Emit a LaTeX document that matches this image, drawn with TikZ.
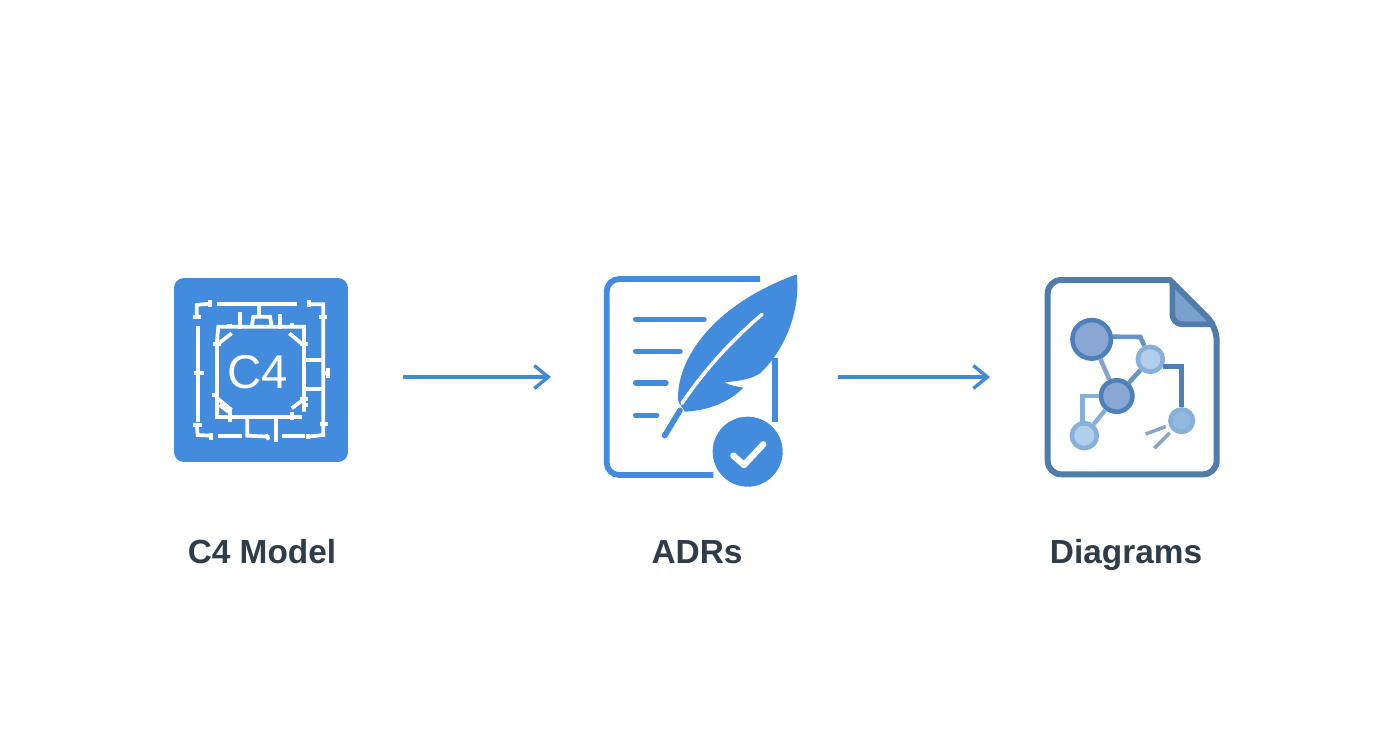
\documentclass[tikz,border=0pt]{standalone}
\usepackage{fontspec}
\setmainfont{Liberation Sans}
\usetikzlibrary{arrows.meta}
\definecolor{iconblue}{HTML}{428BDD}
\definecolor{arrowblue}{HTML}{3F8AD0}
\definecolor{docblue}{HTML}{4F7CA8}
\definecolor{foldblue}{HTML}{7C9FCB}
\definecolor{ringdark}{HTML}{4C80BA}
\definecolor{fillmid}{HTML}{8AA6D3}
\definecolor{ringlight}{HTML}{86B0DA}
\definecolor{filllight}{HTML}{B0CFEC}
\definecolor{labelgray}{HTML}{2F3D4B}
\begin{document}
\begin{tikzpicture}[x=0.02cm, y=-0.02cm]
\tikzset{IconLabel/.style ={font=\fontsize{19}{22}\bfseries\selectfont, text=labelgray, inner sep=0pt, anchor=base}}
\tikzset{FlowArrow/.style ={draw=arrowblue, line width=1.9pt, -{Straight Barb[length=8pt, width=13pt, line width=1.9pt]}}}
\tikzset{Plan/.style ={draw=white, line width=2.1pt}}
\tikzset{DocLine/.style ={draw=iconblue, line width=3.1pt, line cap=round}}
\tikzset{GraphVertex/.style ={circle, inner sep=0pt, line width=2.6pt}}
\useasboundingbox (0,0) rectangle (1392,752);
\fill[white] (0,0) rectangle (1392,752);
\node (c4box) [fill=iconblue, rounded corners=0.2cm, minimum width=3.48cm, minimum height=3.68cm] at (261,370) {};
\node (c4text) [text=white, inner sep=0pt, font=\fontsize{27}{27}\selectfont] at (258,372) {C4};
\begin{scope}[shift={(160,265)}, x=0.00667cm, y=-0.00667cm]
\draw[Plan] (110,155) -- (110,120) -- (155,115);
\draw[Plan] (100,155) -- (122,155);
\draw[Plan] (150,106) -- (150,125);
\draw[Plan] (172,118) -- (412,118);
\draw[Plan] (297,118) -- (297,155);
\draw[Plan] (275,185) -- (280,155) -- (330,155) -- (335,185);
\draw[Plan] (240,140) -- (240,192);
\draw[Plan] (360,148) -- (360,192);
\draw[Plan] (445,118) -- (490,118) -- (490,475) -- (490,510) -- (445,515);
\draw[Plan] (447,106) -- (447,125);
\draw[Plan] (478,155) -- (500,155);
\draw[Plan] (113,182) -- (113,470);
\draw[Plan] (103,323) -- (132,323);
\draw[Plan] (110,475) -- (113,510) -- (155,512);
\draw[Plan] (100,480) -- (125,480);
\draw[Plan] (152,505) -- (152,525);
\draw[Plan] (175,512) -- (245,512);
\draw[Plan] (262,462) -- (262,512) -- (328,515);
\draw[Plan] (318,508) -- (326,524);
\draw[Plan] (347,462) -- (347,530);
\draw[Plan] (365,512) -- (435,512);
\draw[Plan] (445,506) -- (445,522);
\draw[Plan] (480,478) -- (505,478);
\draw[Plan] (435,285) -- (490,285);
\draw[Plan] (435,372) -- (490,372);
\draw[Plan] (490,325) -- (505,325);
\draw[Plan] (505,310) -- (505,340);
\draw[Plan] (170,237) -- (170,455) -- (425,455);
\draw[Plan] (170,237) -- (175,185) -- (432,185) -- (432,440);
\draw[Plan] (180,232) -- (215,205);
\draw[Plan] (160,237) -- (182,237);
\draw[Plan] (200,183) -- (215,183);
\draw[Plan] (388,205) -- (430,240);
\draw[Plan] (395,175) -- (395,190);
\draw[Plan] (420,238) -- (445,238);
\draw[Plan] (155,390) -- (178,390);
\draw[Plan] (172,400) -- (215,435);
\draw[Plan] (178,420) -- (205,440);
\draw[Plan] (210,435) -- (210,470);
\draw[Plan] (395,430) -- (435,400);
\draw[Plan] (420,403) -- (445,403);
\draw[Plan] (395,440) -- (395,465);
\draw[Plan] (430,420) -- (445,420);
\end{scope}
\begin{scope}[shift={(590,265)}, x=0.00667cm, y=-0.00667cm]
\draw[draw=iconblue, line width=3.3pt, rounded corners=0.25cm] (510,42) -- (50,42) -- (50,630) -- (370,630);
\draw[draw=iconblue, line width=3.3pt] (555,280) -- (555,470);
\draw[DocLine] (137,163) -- (342,163);
\draw[DocLine] (137,259) -- (270,259);
\draw[DocLine] (137,354) -- (228,354);
\draw[DocLine] (137,451) -- (200,451);
\fill[iconblue] (620,28) .. controls (632,130) and (590,250) .. (510,325)
 .. controls (480,345) and (440,348) .. (403,352)
 .. controls (420,362) and (440,364) .. (460,368)
 .. controls (430,400) and (370,436) .. (285,440)
 -- (265,410)
 .. controls (255,310) and (340,130) .. (620,28) -- cycle;
\draw[white, line width=2pt, line cap=round] (516,148) .. controls (420,230) and (340,320) .. (276,415);
\draw[iconblue, line width=3.2pt, line cap=round] (270,436) -- (224,512);
\node (adrcheck) [circle, fill=iconblue, inner sep=0pt, minimum size=1.4cm] at (473,560) {};
\draw[white, line width=3.6pt, line cap=round, line join=round] (430,572) -- (462,600) -- (520,538);
\end{scope}
\begin{scope}[shift={(1035,265)}, x=0.00667cm, y=-0.00667cm]
\draw[fill=foldblue, draw=docblue, line width=3.2pt, rounded corners=0.2cm] (412,50) -- (412,178) -- (540,178);
\draw[draw=docblue, line width=3.4pt, line join=round] (405,45) [rounded corners=0.27cm] -- (38,45) -- (38,628) -- (545,628) -- (545,185) [sharp corners] -- cycle;
\node (gbig) [GraphVertex, minimum size=0.77cm, fill=fillmid, draw=ringdark] at (170,223) {};
\node (gtop) [GraphVertex, minimum size=0.5cm, fill=filllight, draw=ringlight] at (346,283) {};
\node (gmid) [GraphVertex, minimum size=0.63cm, fill=fillmid, draw=ringdark] at (245,393) {};
\node (gleft) [GraphVertex, minimum size=0.5cm, fill=filllight, draw=ringlight] at (148,512) {};
\node (gright) [GraphVertex, minimum size=0.45cm, fill=ringlight!70!filllight, draw=ringlight] at (440,467) {};
\draw[draw=ringdark!85!white, line width=2.6pt] (gbig.7) -- (316,216) -- (gtop);
\draw[draw=ringdark!70!white, line width=2.6pt] (gbig) -- (gmid);
\draw[draw=ringdark!85!white, line width=2.6pt] (gtop) -- (gmid);
\draw[draw=ringlight, line width=2.6pt] (gmid) -- (gleft);
\draw[draw=ringlight, line width=2.6pt] (gmid.180) -- (142,393) -- (142,482);
\draw[draw=ringdark, line width=2.6pt] (gtop.330) -- (gright.north |- gtop.330) -- (gright.north);
\coordinate (stubone) at (332,507);
\coordinate (stubtwo) at (358,550);
\draw[draw=ringlight!80!gray, line width=2pt, shorten <=2pt] (gright) -- (stubone);
\draw[draw=ringlight!80!gray, line width=2pt, shorten <=2pt] (gright) -- (stubtwo);
\end{scope}
\coordinate (flowa) at (403,377);
\coordinate (flowb) at (551,377);
\coordinate (flowc) at (838,377);
\coordinate (flowd) at (990,377);
\draw[FlowArrow] (flowa) -- (flowb);
\draw[FlowArrow] (flowc) -- (flowd);
\node (c4label) [IconLabel] at (262,563) {C4 Model};
\node (adrlabel) [IconLabel] at (697,563) {ADRs};
\node (diaglabel) [IconLabel] at (1126,563) {Diagrams};
\end{tikzpicture}
\end{document}
